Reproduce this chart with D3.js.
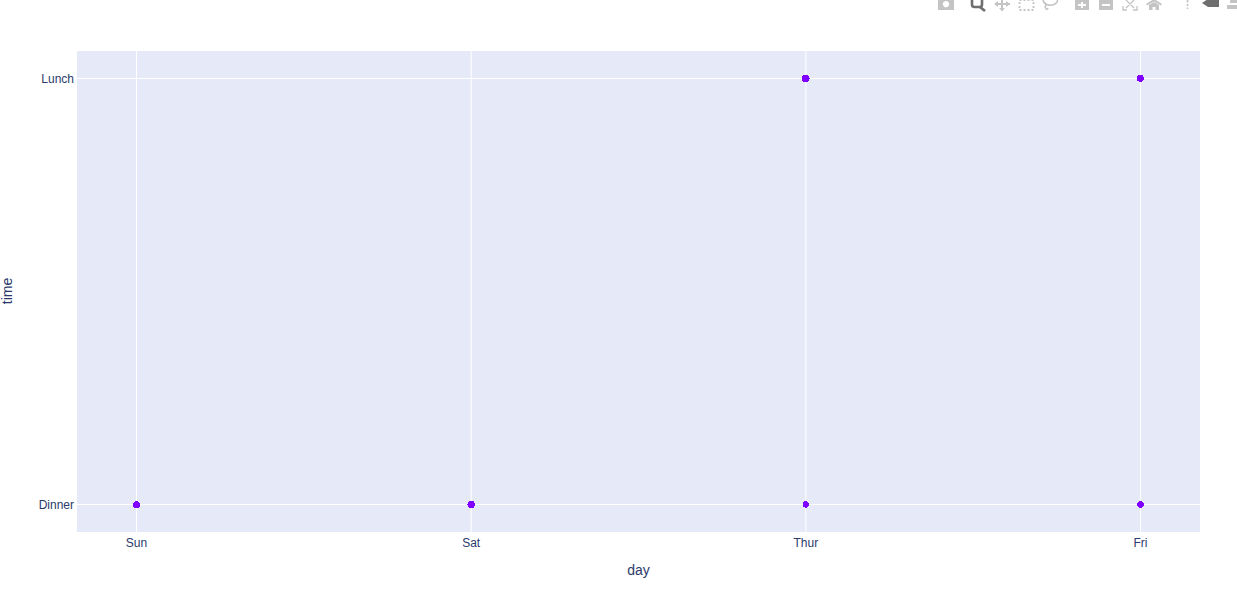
<!DOCTYPE html>
<html>
<head>
<meta charset="utf-8">
<script src="https://cdn.jsdelivr.net/npm/d3@7/dist/d3.min.js"></script>
<style>
html,body{margin:0;padding:0;background:#fff;overflow:hidden}
svg{display:block}
text{font-family:"Liberation Sans",Arial,sans-serif;fill:#2a3a6b}
</style>
</head>
<body>
<svg id="chart" width="1237" height="590"></svg>
<script>
const days = ["Sun", "Sat", "Thur", "Fri"];
const times = ["Dinner", "Lunch"];
const pointDays = ["Sun", "Sat", "Thur", "Thur", "Fri", "Fri"];
const pointTimes = ["Dinner", "Dinner", "Lunch", "Dinner", "Lunch", "Dinner"];
const pointRadii = [3.5, 3.7, 3.8, 3.2, 3.5, 3.4];
const xTitle = "day";
const yTitle = "time";

const svg = d3.select("#chart");
const plot = {left: 77, right: 1200, top: 51, bottom: 532};

const x = d3.scaleLinear().domain([-0.1778, 3.1778]).range([plot.left, plot.right]);
const xCat = d => x(days.indexOf(d));
const y = d3.scaleLinear().domain([-0.06455, 1.06455]).range([plot.bottom, plot.top]);
const yCat = t => y(times.indexOf(t));

svg.append("rect").attr("x", plot.left).attr("y", plot.top)
  .attr("width", plot.right - plot.left).attr("height", plot.bottom - plot.top)
  .attr("fill", "#e6eaf8");

svg.append("g").selectAll("line").data(days).join("line")
  .attr("x1", d => xCat(d)).attr("x2", d => xCat(d))
  .attr("y1", plot.top).attr("y2", plot.bottom)
  .attr("stroke", "#fff").attr("stroke-width", 1);
svg.append("g").selectAll("line").data(times).join("line")
  .attr("x1", plot.left).attr("x2", plot.right)
  .attr("y1", d => yCat(d)).attr("y2", d => yCat(d))
  .attr("stroke", "#fff").attr("stroke-width", 1);

svg.append("g").selectAll("text").data(days).join("text")
  .attr("x", d => xCat(d)).attr("y", 547)
  .attr("text-anchor", "middle").attr("font-size", 12).text(d => d);
svg.append("g").selectAll("text").data(times).join("text")
  .attr("x", 74).attr("y", d => yCat(d) + 4.5)
  .attr("text-anchor", "end").attr("font-size", 12).text(d => d);

svg.append("text").attr("x", 638.5).attr("y", 575)
  .attr("text-anchor", "middle").attr("font-size", 14).text(xTitle);
svg.append("text").attr("transform", "translate(12,291) rotate(-90)")
  .attr("text-anchor", "middle").attr("font-size", 14).text(yTitle);

svg.append("g").attr("shape-rendering", "crispEdges").selectAll("circle").data(pointDays).join("circle")
  .attr("cx", d => xCat(d))
  .attr("cy", (d, i) => yCat(pointTimes[i]))
  .attr("r", (d, i) => pointRadii[i])
  .attr("fill", "#7f00ff");

// Modebar, clipped by the top of the window as in the reference
const bar = svg.append("g").attr("fill", "#c4c4c4").attr("stroke", "none");
// camera
bar.append("path").attr("d", "M938 0h16v10h-16zM946 1a3.2 3.2 0 1 0 .01 0z").attr("fill-rule", "evenodd");
// zoom (active)
bar.append("rect").attr("x", 972).attr("y", -2).attr("width", 10).attr("height", 9).attr("rx", 2.5).attr("fill", "none").attr("stroke", "#6f6f6f").attr("stroke-width", 2.6);
bar.append("path").attr("d", "M980 7l5 4").attr("stroke", "#6f6f6f").attr("stroke-width", 2.8);
// pan
bar.append("path").attr("d", "M1002 0v11M995 4h15").attr("stroke", "#c4c4c4").attr("stroke-width", 2);
bar.append("path").attr("d", "M998 1l-4 3 4 3zM1006 1l4 3-4 3zM999 8l3 3 3-3z");
// box select
bar.append("rect").attr("x", 1019.5).attr("y", 0).attr("width", 14).attr("height", 10)
  .attr("fill", "none").attr("stroke", "#c4c4c4").attr("stroke-width", 1.8).attr("stroke-dasharray", "2 2");
// lasso
bar.append("path").attr("d", "M1046 5C1044 8 1047 11 1048 8M1043 0C1044 5 1050 6 1054 4.500C1057 3 1058 1 1057 0").attr("fill", "none").attr("stroke", "#c4c4c4").attr("stroke-width", 1.6);
// zoom in / out
bar.append("path").attr("fill-rule", "evenodd").attr("d", "M1075 0h14v10h-14zM1081 2v2h-3v2h3v2h2v-2h3v-2h-3v-2z");
bar.append("path").attr("fill-rule", "evenodd").attr("d", "M1099 0h14v10h-14zM1102 4v2h8v-2z");
// autoscale
bar.append("path").attr("d", "M1123 6v4h4M1137 6v4h-4M1126 0l8 8M1134 0l-8 8").attr("fill", "none").attr("stroke", "#c4c4c4").attr("stroke-width", 1.3);
// home
bar.append("path").attr("d", "M1146 4l8-5 8 5-1 1.500-7-4-7 4zM1149 5l5-3 5 3v5h-3.500v-3h-3v3h-3.500z");
// spikes
bar.append("path").attr("d", "M1187.500 0v2.500M1187.500 4v2M1187.500 7.500v1.500").attr("stroke", "#c4c4c4").attr("stroke-width", 1.6);
// hover closest (active)
bar.append("path").attr("d", "M1202 3l6-4h11v8h-11z").attr("fill", "#6f6f6f");
// hover compare
bar.append("path").attr("d", "M1230 0h7v3h-7zM1227 5h10v4h-10z");
</script>
</body>
</html>
